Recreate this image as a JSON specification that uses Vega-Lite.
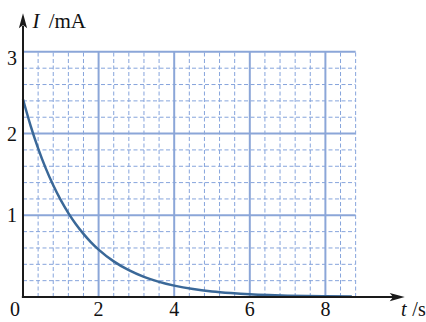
{
  "$schema": "https://vega.github.io/schema/vega-lite/v6.json",
  "width": 378,
  "height": 286,
  "autosize": {"type": "none"},
  "padding": {"left": 23, "top": 11, "right": 25, "bottom": 25},
  "background": "white",
  "config": {"view": {"stroke": null}},
  "datasets": {
    "minorX": [{"v": 0.4}, {"v": 0.8}, {"v": 1.2}, {"v": 1.6}, {"v": 2.4}, {"v": 2.8}, {"v": 3.2}, {"v": 3.6}, {"v": 4.4}, {"v": 4.8}, {"v": 5.2}, {"v": 5.6}, {"v": 6.4}, {"v": 6.8}, {"v": 7.2}, {"v": 7.6}, {"v": 8.4}, {"v": 8.8}],
    "minorY": [{"v": 0.2}, {"v": 0.4}, {"v": 0.6}, {"v": 0.8}, {"v": 1.2}, {"v": 1.4}, {"v": 1.6}, {"v": 1.8}, {"v": 2.2}, {"v": 2.4}, {"v": 2.6}, {"v": 2.8}],
    "majorX": [{"v": 2}, {"v": 4}, {"v": 6}, {"v": 8}],
    "majorY": [{"v": 1}, {"v": 2}, {"v": 3}],
    "xLabels": [{"v": 2, "label": "2"}, {"v": 4, "label": "4"}, {"v": 6, "label": "6"}, {"v": 8, "label": "8"}],
    "yLabels": [{"v": 1, "label": "1"}, {"v": 2, "label": "2"}, {"v": 2.93, "label": "3"}],
    "curve": [
      {"t": 0, "i": 2.42}, {"t": 0.2, "i": 2.098}, {"t": 0.4, "i": 1.819}, {"t": 0.6, "i": 1.577},
      {"t": 0.8, "i": 1.367}, {"t": 1.0, "i": 1.185}, {"t": 1.2, "i": 1.027}, {"t": 1.4, "i": 0.89},
      {"t": 1.6, "i": 0.772}, {"t": 1.8, "i": 0.669}, {"t": 2.0, "i": 0.58}, {"t": 2.4, "i": 0.436},
      {"t": 2.8, "i": 0.328}, {"t": 3.2, "i": 0.246}, {"t": 3.6, "i": 0.185}, {"t": 4.0, "i": 0.139},
      {"t": 4.5, "i": 0.097}, {"t": 5.0, "i": 0.068}, {"t": 5.5, "i": 0.048}, {"t": 6.0, "i": 0.033},
      {"t": 6.5, "i": 0.023}, {"t": 7.0, "i": 0.016}, {"t": 7.5, "i": 0.011}, {"t": 8.0, "i": 0.008},
      {"t": 8.7, "i": 0.005}
    ]
  },
  "layer": [
    {
      "data": {"name": "minorX"},
      "mark": {"type": "rule", "color": "#86a4dc", "strokeWidth": 1, "strokeDash": [4, 2.5]},
      "encoding": {
        "x": {"field": "v", "type": "quantitative", "scale": {"domain": [0, 10], "nice": false, "zero": false}, "axis": null},
        "y": {"datum": 0, "type": "quantitative", "scale": {"domain": [0, 3.5], "nice": false, "zero": false}, "axis": null},
        "y2": {"datum": 3}
      }
    },
    {
      "data": {"name": "minorY"},
      "mark": {"type": "rule", "color": "#86a4dc", "strokeWidth": 1, "strokeDash": [4, 2.5]},
      "encoding": {
        "y": {"field": "v", "type": "quantitative", "axis": null},
        "x": {"datum": 0, "type": "quantitative", "axis": null},
        "x2": {"datum": 8.8}
      }
    },
    {
      "data": {"name": "majorX"},
      "mark": {"type": "rule", "color": "#8ba6d8", "strokeWidth": 2},
      "encoding": {
        "x": {"field": "v", "type": "quantitative", "axis": null},
        "y": {"datum": 0, "type": "quantitative", "axis": null},
        "y2": {"datum": 3}
      }
    },
    {
      "data": {"name": "majorY"},
      "mark": {"type": "rule", "color": "#8ba6d8", "strokeWidth": 2},
      "encoding": {
        "y": {"field": "v", "type": "quantitative", "axis": null},
        "x": {"datum": 0, "type": "quantitative", "axis": null},
        "x2": {"datum": 8.8}
      }
    },
    {
      "data": {"name": "curve"},
      "mark": {"type": "line", "color": "#3a6898", "strokeWidth": 2.5, "interpolate": "monotone"},
      "encoding": {
        "x": {"field": "t", "type": "quantitative", "axis": null},
        "y": {"field": "i", "type": "quantitative", "axis": null}
      }
    },
    {
      "data": {"values": [{}]},
      "mark": {"type": "rule", "color": "#1a1a1a", "strokeWidth": 2},
      "encoding": {
        "x": {"datum": 0, "type": "quantitative", "axis": null},
        "y": {"datum": -0.01, "type": "quantitative", "axis": null},
        "y2": {"datum": 3.32}
      }
    },
    {
      "data": {"values": [{}]},
      "mark": {"type": "rule", "color": "#1a1a1a", "strokeWidth": 2},
      "encoding": {
        "y": {"datum": 0, "type": "quantitative", "axis": null},
        "x": {"datum": -0.03, "type": "quantitative", "axis": null},
        "x2": {"datum": 9.8}
      }
    },
    {
      "data": {"values": [{}]},
      "mark": {"type": "point", "shape": "M0,-1 L0.55,1 L0,0.55 L-0.55,1 Z", "size": 225, "filled": true, "color": "#1a1a1a", "opacity": 1},
      "encoding": {
        "x": {"datum": 0, "type": "quantitative", "axis": null},
        "y": {"datum": 3.38, "type": "quantitative", "axis": null}
      }
    },
    {
      "data": {"values": [{}]},
      "mark": {"type": "point", "shape": "M1,0 L-1,0.55 L-0.55,0 L-1,-0.55 Z", "size": 225, "filled": true, "color": "#1a1a1a", "opacity": 1},
      "encoding": {
        "x": {"datum": 9.9, "type": "quantitative", "axis": null},
        "y": {"datum": 0, "type": "quantitative", "axis": null}
      }
    },
    {
      "data": {"name": "xLabels"},
      "mark": {"type": "text", "font": "Liberation Serif", "fontSize": 20, "color": "#111", "align": "center", "baseline": "alphabetic", "dy": 19},
      "encoding": {
        "x": {"field": "v", "type": "quantitative", "axis": null},
        "y": {"datum": 0, "type": "quantitative", "axis": null},
        "text": {"field": "label"}
      }
    },
    {
      "data": {"name": "yLabels"},
      "mark": {"type": "text", "font": "Liberation Serif", "fontSize": 20, "color": "#111", "align": "right", "baseline": "middle", "dx": -6, "dy": 1},
      "encoding": {
        "y": {"field": "v", "type": "quantitative", "axis": null},
        "x": {"datum": 0, "type": "quantitative", "axis": null},
        "text": {"field": "label"}
      }
    },
    {
      "data": {"values": [{"label": "0"}]},
      "mark": {"type": "text", "font": "Liberation Serif", "fontSize": 20, "color": "#111", "align": "center", "baseline": "alphabetic", "dx": -8, "dy": 19},
      "encoding": {
        "x": {"datum": 0, "type": "quantitative", "axis": null},
        "y": {"datum": 0, "type": "quantitative", "axis": null},
        "text": {"field": "label"}
      }
    },
    {
      "data": {"values": [{"label": "I"}]},
      "mark": {"type": "text", "font": "Liberation Serif", "fontSize": 21, "fontStyle": "italic", "color": "#111", "align": "left", "baseline": "alphabetic"},
      "encoding": {
        "x": {"datum": 0.25, "type": "quantitative", "axis": null},
        "y": {"datum": 3.29, "type": "quantitative", "axis": null},
        "text": {"field": "label"}
      }
    },
    {
      "data": {"values": [{"label": "/mA"}]},
      "mark": {"type": "text", "font": "Liberation Serif", "fontSize": 21, "color": "#111", "align": "left", "baseline": "alphabetic"},
      "encoding": {
        "x": {"datum": 0.68, "type": "quantitative", "axis": null},
        "y": {"datum": 3.29, "type": "quantitative", "axis": null},
        "text": {"field": "label"}
      }
    },
    {
      "data": {"values": [{"label": "t"}]},
      "mark": {"type": "text", "font": "Liberation Serif", "fontSize": 20, "fontStyle": "italic", "color": "#111", "align": "left", "baseline": "alphabetic", "dy": 19},
      "encoding": {
        "x": {"datum": 10.0, "type": "quantitative", "axis": null},
        "y": {"datum": 0, "type": "quantitative", "axis": null},
        "text": {"field": "label"}
      }
    },
    {
      "data": {"values": [{"label": "/s"}]},
      "mark": {"type": "text", "font": "Liberation Serif", "fontSize": 20, "color": "#111", "align": "left", "baseline": "alphabetic", "dy": 19},
      "encoding": {
        "x": {"datum": 10.3, "type": "quantitative", "axis": null},
        "y": {"datum": 0, "type": "quantitative", "axis": null},
        "text": {"field": "label"}
      }
    }
  ]
}
